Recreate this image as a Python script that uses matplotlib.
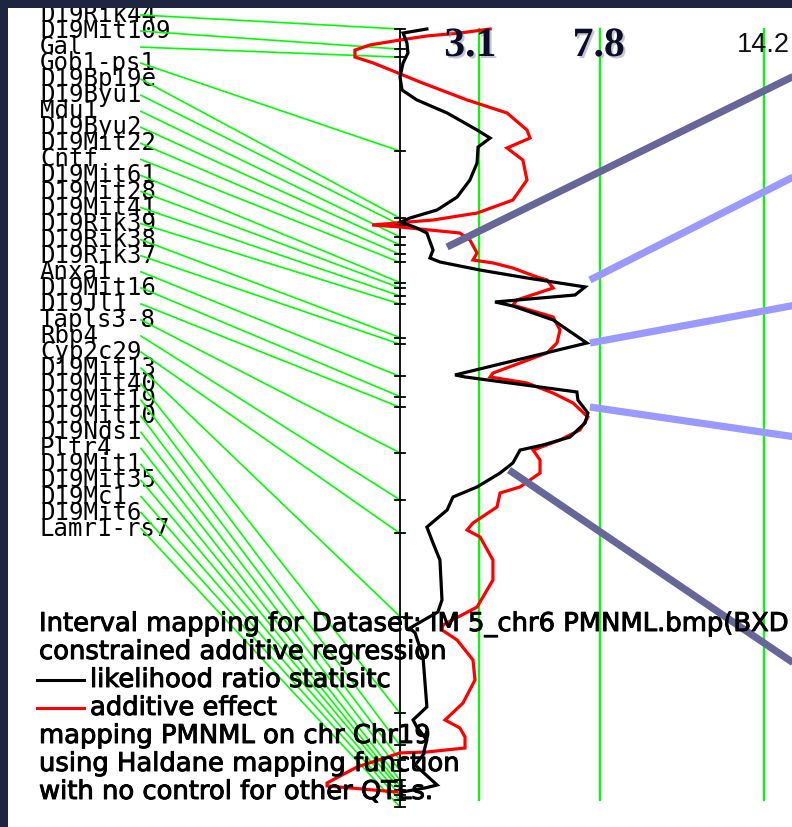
import matplotlib
matplotlib.use("Agg")
import matplotlib.pyplot as plt
from matplotlib.lines import Line2D
from matplotlib import patheffects as pe

# ---------------------------------------------------------------- data
markers = ["D19Rik44", "D19Mit109", "Gal", "Gob1-ps1", "D19Bp19e", "D19Byu1",
           "Mdu1", "D19Byu2", "D19Mit22", "Cntf", "D19Mit61", "D19Mit28",
           "D19Mit41", "D19Rik39", "D19Rik38", "D19Rik37", "Anxa1", "D19Mit16",
           "D19Jl1", "Tapls3-8", "Rbp4", "Cyp2c29", "D19Mit13", "D19Mit40",
           "D19Mit19", "D19Mit10", "D19Nds1", "Pltr4", "D19Mit1", "D19Mit35",
           "D19Mc1", "D19Mit6", "Lamr1-rs7"]
# map position of each marker (cM)
marker_cm = [0.0, 1.5, 2.1, 9.1, 14.1, 14.6, 15.5, 16.1, 16.8, 17.4, 18.9,
             19.3, 19.9, 20.5, 23.0, 23.5, 25.9, 27.4, 28.2, 31.6, 35.1, 37.6,
             43.8, 51.0, 53.4, 54.5, 55.3, 56.0, 56.4, 56.7, 57.1, 57.5, 58.0]
chrom_length = 58.0

# likelihood ratio statistic along the chromosome
lrs_cm = [0.00, 0.30, 1.04, 1.79, 2.53, 3.58, 4.55, 5.29, 6.26, 7.53, 8.13,
          8.80, 9.99, 11.26, 12.53, 13.49, 14.09, 14.39, 14.84, 15.21, 16.48,
          17.07, 17.37, 17.97, 18.56, 19.23, 19.83, 20.35, 20.65, 21.69, 23.41,
          25.79, 25.94, 27.06, 27.66, 28.63, 29.37, 30.42, 31.01, 31.39, 32.35,
          33.10, 34.14, 34.89, 35.86, 37.13, 38.32, 39.59, 42.57, 43.46, 44.66,
          45.03, 46.82, 50.54, 51.51, 52.04, 53.01, 54.12, 54.87, 56.36, 56.58,
          56.88]
lrs_val = [1.05, 0.12, 0.27, 0.31, 0.12, 0.00, 0.08, 0.66, 1.84, 3.01, 3.52,
           3.05, 3.01, 2.73, 2.23, 1.45, 0.39, 0.04, 0.66, 1.05, 1.29,
           1.17, 1.56, 3.13, 4.96, 7.23, 6.84, 3.71, 4.41, 5.98, 7.30,
           2.15, 2.54, 6.91, 6.95, 7.34, 7.23, 6.64, 5.59, 4.69, 4.41,
           3.91, 3.01, 2.07, 1.84, 1.05, 1.29, 1.56, 1.64, 1.48, 0.39,
           0.59, 0.90, 1.05, 0.51, 0.66, 1.05, 0.90, 0.59, 1.45, 0.98,
           0.08]

# additive effect (drawn on the same horizontal scale)
add_cm = [0.00, 0.30, 0.52, 0.82, 1.19, 1.57, 2.09, 2.53, 3.13, 3.95, 5.29,
          6.26, 7.53, 8.13, 8.87, 9.77, 11.26, 12.75, 13.72, 14.24, 14.61,
          14.76, 15.21, 15.73, 16.70, 17.22, 17.44, 17.82, 18.49, 18.71, 19.31,
          20.20, 20.58, 21.47, 22.44, 23.41, 24.15, 25.65, 25.94, 26.39, 27.14,
          27.88, 28.93, 29.89, 30.64, 31.39, 32.13, 33.10, 34.14, 34.59, 35.63,
          36.83, 37.35, 37.87, 39.59, 41.08, 43.09, 44.43, 44.80, 45.55, 47.04,
          48.53, 50.25, 51.51, 52.11, 52.78, 53.60, 53.90, 53.97, 55.02, 56.21,
          56.43, 56.73, 56.88]
add_val = [3.52, 2.34, 1.05, 0.00, -1.17, -1.76, -1.76, -1.05, -0.27, 0.78, 2.62,
           4.18, 4.96, 5.08, 4.18, 4.80, 4.96, 4.41, 3.01, 1.29, -1.09,
           0.00, 2.34, 2.73, 3.01, 2.85, 3.63, 4.41, 5.35, 5.74, 5.98,
           4.57, 4.41, 5.98, 6.25, 6.13, 5.74, 3.63, 3.52, 4.96, 5.98,
           6.76, 7.34, 7.03, 6.25, 5.20, 5.47, 5.47, 4.69, 3.91, 3.79,
           2.85, 2.62, 3.13, 3.63, 3.63, 3.01, 1.68, 1.64, 2.23, 2.85,
           2.93, 2.46, 1.76, 2.34, 2.54, 2.54, 1.05, 0.00, -1.68, -2.85,
           -2.85, -1.05, -0.12]

# significance thresholds (LRS)
thresholds = [3.1, 7.8, 14.2]
threshold_labels = ["3.1", "7.8", "14.2"]

# callout pointers: anchor (LRS, cM) -> far end (LRS, cM)
callout_from = [(1.84, 16.25), (7.42, 18.71), (7.42, 23.41), (7.42, 28.18), (4.26, 32.88)]
callout_to = [(15.4, 3.5), (15.4, 11.0), (15.4, 20.6), (15.4, 30.4), (15.4, 47.3)]
callout_dark = [True, False, False, False, True]

legend_lines = [
    "Interval mapping for Dataset: IM 5_chr6 PMNML.bmp(BXD",
    "constrained additive regression",
    "likelihood ratio statisitc",
    "additive effect",
    "mapping PMNML on chr Chr19",
    "using Haldane mapping function",
    "with no control for other QTLs.",
]

# ---------------------------------------------------------------- layout
W, H, DPI = 792, 827, 100
PANEL = 8                      # dark border on the left / top
AXIS_PX = 400                  # chromosome axis (LRS = 0)
TOP_PX = 29                    # map position 0
PX_PER_LRS = 25.6
PX_PER_CM = 778 / chrom_length

GREEN = "#00ff00"
DARK_CALLOUT = "#666699"
LIGHT_CALLOUT = "#9999ff"


def px_x(px):
    return (px - AXIS_PX) / PX_PER_LRS


def px_y(py):
    return (py - TOP_PX) / PX_PER_CM


fig = plt.figure(figsize=(W / DPI, H / DPI), dpi=DPI)
fig.patch.set_facecolor("#1d2540")

ax = fig.add_axes([PANEL / W, 0, (W - PANEL) / W, (H - PANEL) / H])
ax.set_facecolor("white")
ax.set_xlim(px_x(PANEL), px_x(W))
ax.set_ylim(px_y(H), px_y(PANEL))
for s in ax.spines.values():
    s.set_visible(False)
ax.set_xticks([])
ax.set_yticks([])

# marker names and their connectors to the map axis
label_x = px_x(40)
line_x0 = px_x(141)
for i, (name, pos) in enumerate(zip(markers, marker_cm)):
    ly = px_y(15 + 16.05 * i)
    ax.text(label_x, ly, name, ha="left", va="center",
            family="DejaVu Sans Mono", fontsize=17.3, color="black",
            zorder=2, clip_on=True)
    ax.plot([line_x0, 0], [ly, pos], color=GREEN, lw=1.2, zorder=3)

# chromosome axis with marker ticks
ax.plot([0, 0], [0, chrom_length], color="black", lw=1.3, zorder=4)
tick = 5 / PX_PER_LRS
for pos in marker_cm:
    ax.plot([-tick, tick], [pos, pos], color="black", lw=1.3, zorder=4)

# threshold lines
for t in thresholds:
    ax.plot([t, t], [0, 57.5], color=GREEN, lw=1.6, zorder=3)

# bottom description text
text_y0 = 624
bold_ish = [pe.withStroke(linewidth=0.7, foreground="black")]
for j, line in enumerate(legend_lines):
    ypx = text_y0 + 28 * j
    xpx = 90 if j in (2, 3) else 39
    fig.text(xpx / W, 1 - ypx / H, line, ha="left", va="center",
             family="DejaVu Sans", fontsize=18.6, color="black", zorder=5,
             path_effects=bold_ish)
for j, col in ((2, "black"), (3, "red")):
    ypx = text_y0 + 28 * j
    fig.add_artist(Line2D([37 / W, 84 / W], [1 - ypx / H, 1 - ypx / H],
                          color=col, lw=2.2, zorder=5))

# curves
ax.plot(add_val, add_cm, color="#ff0000", lw=2.3, zorder=6,
        solid_joinstyle="miter")
ax.plot(lrs_val, lrs_cm, color="black", lw=2.3, zorder=7,
        solid_joinstyle="miter")

# threshold labels
shadow = [pe.withSimplePatchShadow(offset=(1.5, -1.5), shadow_rgbFace="#8a8aa8",
                                   alpha=0.5)]
label_dx = [-9, -1, 0]
for t, lab, dx in zip(thresholds, threshold_labels, label_dx):
    if lab == "14.2":
        ax.text(t, px_y(45), lab, ha="center", va="center",
                family="Liberation Sans", fontsize=19.5, color="#111111",
                zorder=8)
    else:
        ax.text(t + dx / PX_PER_LRS, px_y(46), lab, ha="center", va="center",
                family="Liberation Serif", fontweight="bold", fontsize=30,
                color="#0c0c2a", path_effects=shadow, zorder=8)

# callout pointers
for (x0, y0), (x1, y1), dark in zip(callout_from, callout_to, callout_dark):
    ax.plot([x0, x1], [y0, y1], color=DARK_CALLOUT if dark else LIGHT_CALLOUT,
            lw=5.2, solid_capstyle="butt", zorder=9)

fig.savefig("out.png", dpi=DPI, facecolor=fig.get_facecolor())
